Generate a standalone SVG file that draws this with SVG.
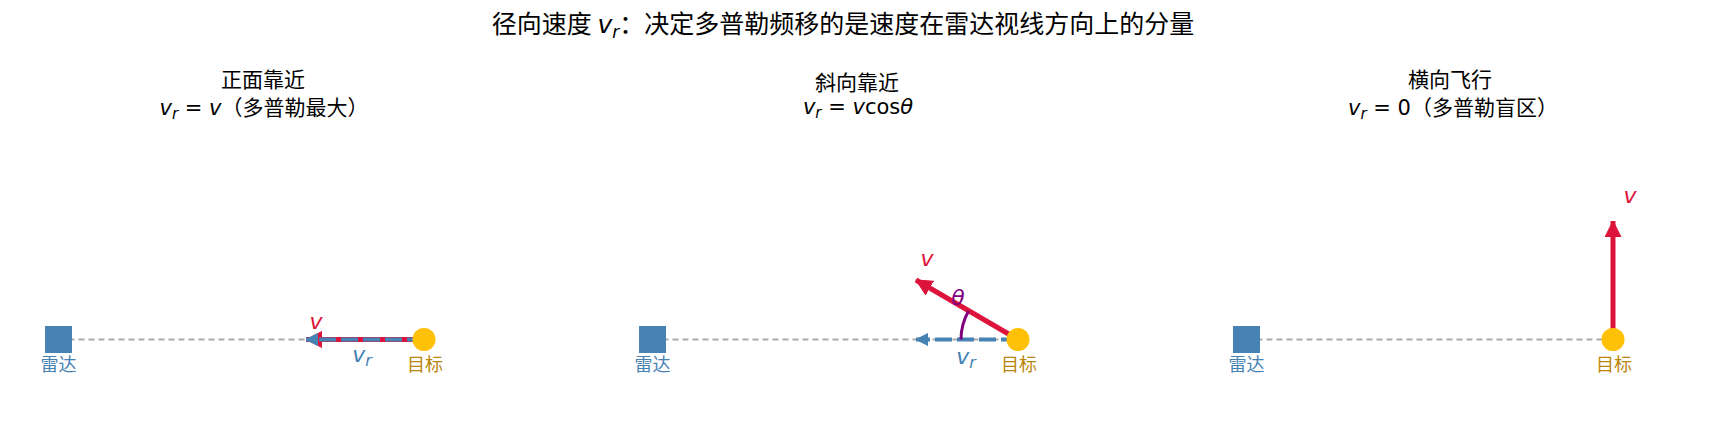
<svg xmlns="http://www.w3.org/2000/svg" width="1716" height="437" viewBox="0 0 1716 437">
<style>
.cjk{font-family:"Noto Sans CJK SC","DejaVu Sans",sans-serif;fill:#000}
.m{font-family:"DejaVu Sans",sans-serif;font-style:italic}
.n{font-family:"DejaVu Sans",sans-serif;font-style:normal}
.title{font-size:25px}
.sub{font-size:21px}
.lbl{font-size:18px;text-anchor:middle}
.radar{fill:#4682B4}
.target{fill:#FFC107}
.sight{stroke:#AAAAAA;stroke-width:2;stroke-dasharray:6,4;fill:none}
.vel{stroke:#DC143C;stroke-width:5;fill:none}
.rad{stroke:#4682B4;stroke-width:4;stroke-dasharray:17,5;fill:none}
.vlab{font-family:"DejaVu Sans",sans-serif;font-style:italic;font-size:22px;text-anchor:middle}
</style>
<defs>
<marker id="headRed" markerUnits="userSpaceOnUse" markerWidth="22" markerHeight="22" refX="16" refY="8" orient="auto">
<path d="M0,0 L16,8 L0,16 Z" fill="#DC143C" stroke="#DC143C" stroke-width="1" stroke-linejoin="round"/>
</marker>
<marker id="headBlue" markerUnits="userSpaceOnUse" markerWidth="16" markerHeight="16" refX="12" refY="6" orient="auto">
<path d="M0,0 L12,6 L0,12 Z" fill="#4682B4" stroke="#4682B4" stroke-width="1" stroke-linejoin="round"/>
</marker>
</defs>

<text class="cjk title" x="843" y="33" text-anchor="middle">径向速度 <tspan class="m">v</tspan><tspan class="m" font-size="17" dy="5">r</tspan><tspan dy="-5">：决定多普勒频移的是速度在雷达视线方向上的分量</tspan></text>

<g id="panel1-title">
<text class="cjk sub" x="263" y="87" text-anchor="middle">正面靠近</text>
<text class="cjk sub" x="264" y="115" text-anchor="middle"><tspan class="m">v</tspan><tspan class="m" font-size="15" dy="4">r</tspan><tspan class="n" dy="-4"> = </tspan><tspan class="m">v</tspan>（多普勒最大）</text>
</g>
<g id="panel2-title">
<text class="cjk sub" x="857" y="90" text-anchor="middle">斜向靠近</text>
<text class="cjk sub" x="858" y="114" text-anchor="middle"><tspan class="m">v</tspan><tspan class="m" font-size="15" dy="4">r</tspan><tspan class="n" dy="-4"> = </tspan><tspan class="m">v</tspan><tspan class="n">cos</tspan><tspan class="m">θ</tspan></text>
</g>
<g id="panel3-title">
<text class="cjk sub" x="1450" y="87" text-anchor="middle">横向飞行</text>
<text class="cjk sub" x="1453" y="115" text-anchor="middle"><tspan class="m">v</tspan><tspan class="m" font-size="15" dy="4">r</tspan><tspan class="n" dy="-4"> = 0</tspan>（多普勒盲区）</text>
</g>

<g id="connectors">
<line class="sight" x1="58.5" y1="339.5" x2="424" y2="339.5"/>
<line class="sight" x1="652.5" y1="339.5" x2="1018" y2="339.5"/>
<line class="sight" x1="1246.5" y1="339.5" x2="1613" y2="339.5"/>

<line class="vel" x1="424" y1="339.5" x2="306" y2="339.5" marker-end="url(#headRed)"/>
<line class="rad" x1="424" y1="339.5" x2="306" y2="339.5" marker-end="url(#headBlue)"/>

<line class="vel" x1="1018" y1="339.5" x2="916" y2="280" marker-end="url(#headRed)"/>
<line class="rad" x1="1018" y1="339.5" x2="916" y2="339.5" marker-end="url(#headBlue)"/>
<path d="M961,339.5 A57,57 0 0 1 968.6,311" stroke="#800080" stroke-width="3" fill="none"/>

<line class="vel" x1="1613" y1="339.5" x2="1613" y2="221" marker-end="url(#headRed)"/>
</g>

<g id="panel1">
<g id="radar1"><rect class="radar" x="45" y="326" width="27" height="27"/><text class="cjk lbl" x="58.5" y="371" style="fill:#4682B4">雷达</text></g>
<g id="target1"><circle class="target" cx="424" cy="339.5" r="11.5"/><text class="cjk lbl" x="425" y="371" style="fill:#B8860B">目标</text></g>
<text class="vlab" x="316" y="329" fill="#DC143C">v</text>
<text class="vlab" x="362" y="362" fill="#4682B4">v<tspan font-size="16" dy="4">r</tspan></text>
</g>

<g id="panel2">
<g id="radar2"><rect class="radar" x="639" y="326" width="27" height="27"/><text class="cjk lbl" x="652.5" y="371" style="fill:#4682B4">雷达</text></g>
<g id="target2"><circle class="target" cx="1018" cy="339.5" r="11.5"/><text class="cjk lbl" x="1019" y="371" style="fill:#B8860B">目标</text></g>
<text class="vlab" x="927" y="266" fill="#DC143C">v</text>
<text class="vlab" x="966" y="364" fill="#4682B4">v<tspan font-size="16" dy="4">r</tspan></text>
<text class="vlab" x="958" y="305" fill="#800080" font-size="22">θ</text>
</g>

<g id="panel3">
<g id="radar3"><rect class="radar" x="1233" y="326" width="27" height="27"/><text class="cjk lbl" x="1246.5" y="371" style="fill:#4682B4">雷达</text></g>
<g id="target3"><circle class="target" cx="1613" cy="339.5" r="11.5"/><text class="cjk lbl" x="1614" y="371" style="fill:#B8860B">目标</text></g>
<text class="vlab" x="1630" y="203" fill="#DC143C">v</text>
</g>
</svg>
